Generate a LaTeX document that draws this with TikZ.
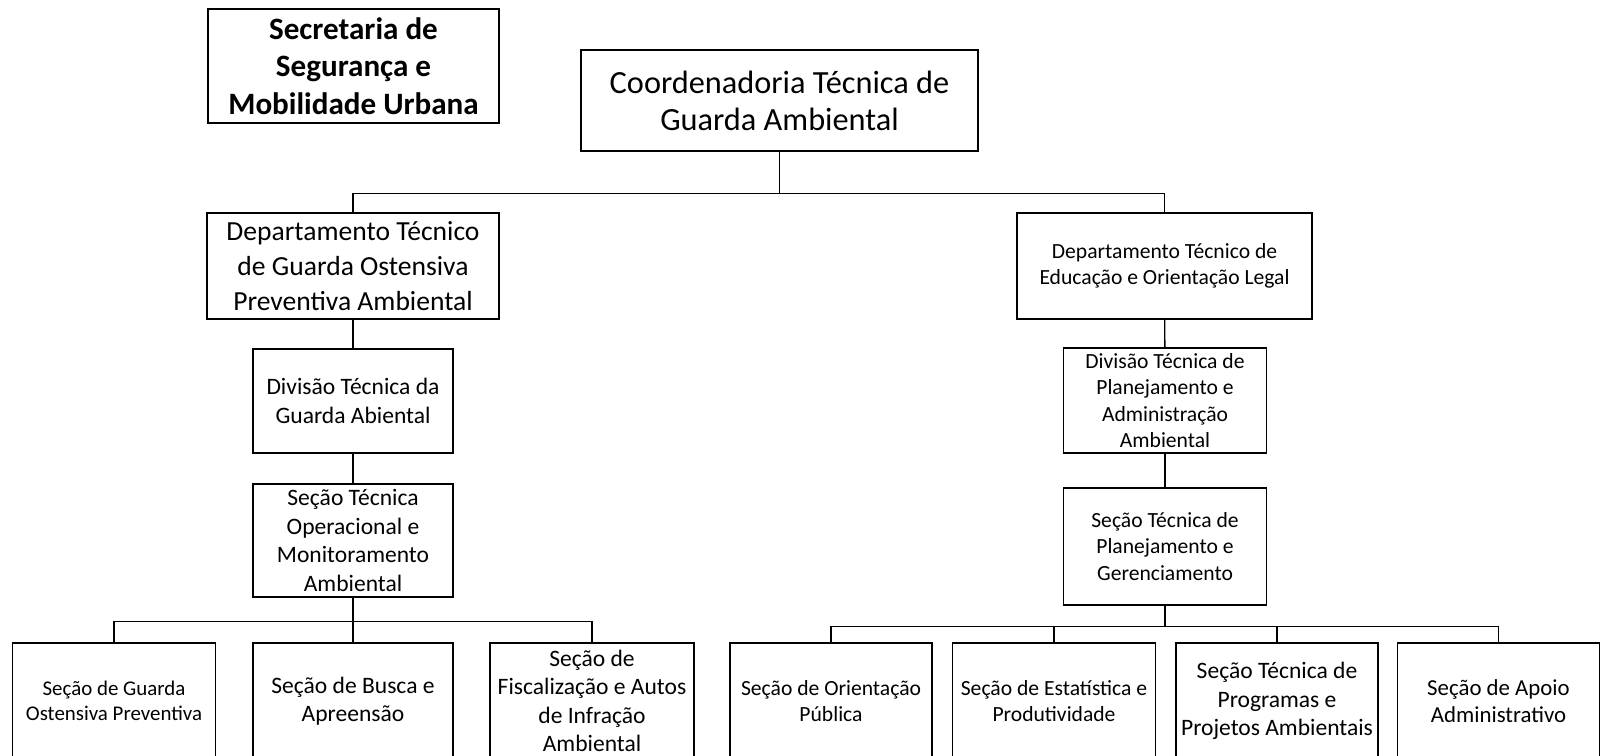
\documentclass[tikz,border=0pt]{standalone}
\usepackage{fontspec}
\setmainfont{Carlito}
\usepackage{tikz}
\usetikzlibrary{positioning, calc}

\begin{document}
\begin{tikzpicture}[x=0.02cm, y=-0.02cm, line width=0.8pt,
	caixa/.style 2 args={draw, line width=0.8pt, align=center, inner sep=0pt,
		minimum width=#1, minimum height=#2},
	titulo/.style={font=\fontsize{17.7}{21.5}\selectfont\bfseries},
	grande/.style={font=\fontsize{18.4}{21}\selectfont},
	medio/.style={font=\fontsize{15.7}{19.8}\selectfont},
	normal/.style={font=\fontsize{13.4}{16.2}\selectfont},
	pequeno/.style={font=\fontsize{12.3}{15.1}\selectfont}]
	\clip (0,0) rectangle (1601,756);

	% topo
	\node[caixa={5.82cm}{2.28cm}, titulo] (secr) at (353.5,66) {Secretaria de\\Segurança e\\Mobilidade Urbana};
	\node[caixa={7.94cm}{2.02cm}, grande] (coord) at (779.5,100.5) {Coordenadoria Técnica de\\Guarda Ambiental};

	% ramo esquerdo
	\node[caixa={5.84cm}{2.12cm}, medio] (dgo) at (353,266) {Departamento Técnico\\de Guarda Ostensiva\\Preventiva Ambiental};
	\node[caixa={4.00cm}{2.08cm}, normal] (dga) at (353,401) {Divisão Técnica da\\Guarda Abiental};
	\node[caixa={4.00cm}{2.26cm}, normal] (sop) at (353,540.5) {Seção Técnica\\Operacional e\\Monitoramento\\Ambiental};

	% ramo direito
	\node[caixa={5.90cm}{2.12cm}, pequeno] (deo) at (1164.5,266) {Departamento Técnico de\\Educação e Orientação Legal};
	\node[caixa={4.06cm}{2.10cm}, pequeno] (dpa) at (1165,400.5) {Divisão Técnica de\\Planejamento e\\Administração\\Ambiental};
	\node[caixa={4.06cm}{2.34cm}, pequeno] (spg) at (1165,546.5) {Seção Técnica de\\Planejamento e\\Gerenciamento};

	% secoes de baixo
	\node[caixa={4.06cm}{2.32cm}, font=\fontsize{11.9}{14.2}\selectfont] (sgo) at (114,701) {Seção de Guarda\\Ostensiva Preventiva};
	\node[caixa={4.00cm}{2.32cm}, normal] (sba) at (353,701) {Seção de Busca e\\Apreensão};
	\node[caixa={4.08cm}{2.32cm}, normal] (sfi) at (592,701) {Seção de\\Fiscalização e Autos\\de Infração\\Ambiental};
	\node[caixa={4.04cm}{2.32cm}, pequeno] (sor) at (831,701) {Seção de Orientação\\Pública};
	\node[caixa={4.06cm}{2.32cm}, pequeno] (sep) at (1054,701) {Seção de Estatística e\\Produtividade};
	\node[caixa={4.04cm}{2.32cm}, normal] (spp) at (1277,701) {Seção Técnica de\\Programas e\\Projetos Ambientais};
	\node[caixa={4.04cm}{2.32cm}, font=\fontsize{13}{15.4}\selectfont] (sap) at (1498.5,701) {Seção de Apoio\\Administrativo};

	% ligacoes
	\path (coord.south) ++(0,42) coordinate (jc);
	\path (sop.south) ++(0,24) coordinate (je);
	\path (spg.south) ++(0,21) coordinate (jd);
	\draw (coord.south) -- (jc);
	\draw (dgo.north) |- (jc) -| (deo.north);
	\draw (dgo) -- (dga);
	\draw (dga) -- (sop);
	\draw (deo) -- (dpa);
	\draw (dpa) -- (spg);
	\draw (sop.south) -- (sba.north);
	\draw (sgo.north) |- (je) -| (sfi.north);
	\draw (spg.south) -- (jd);
	\draw (sor.north) |- (jd) -| (sap.north);
	\draw (sep.north) |- (jd);
	\draw (spp.north) |- (jd);
\end{tikzpicture}
\end{document}
